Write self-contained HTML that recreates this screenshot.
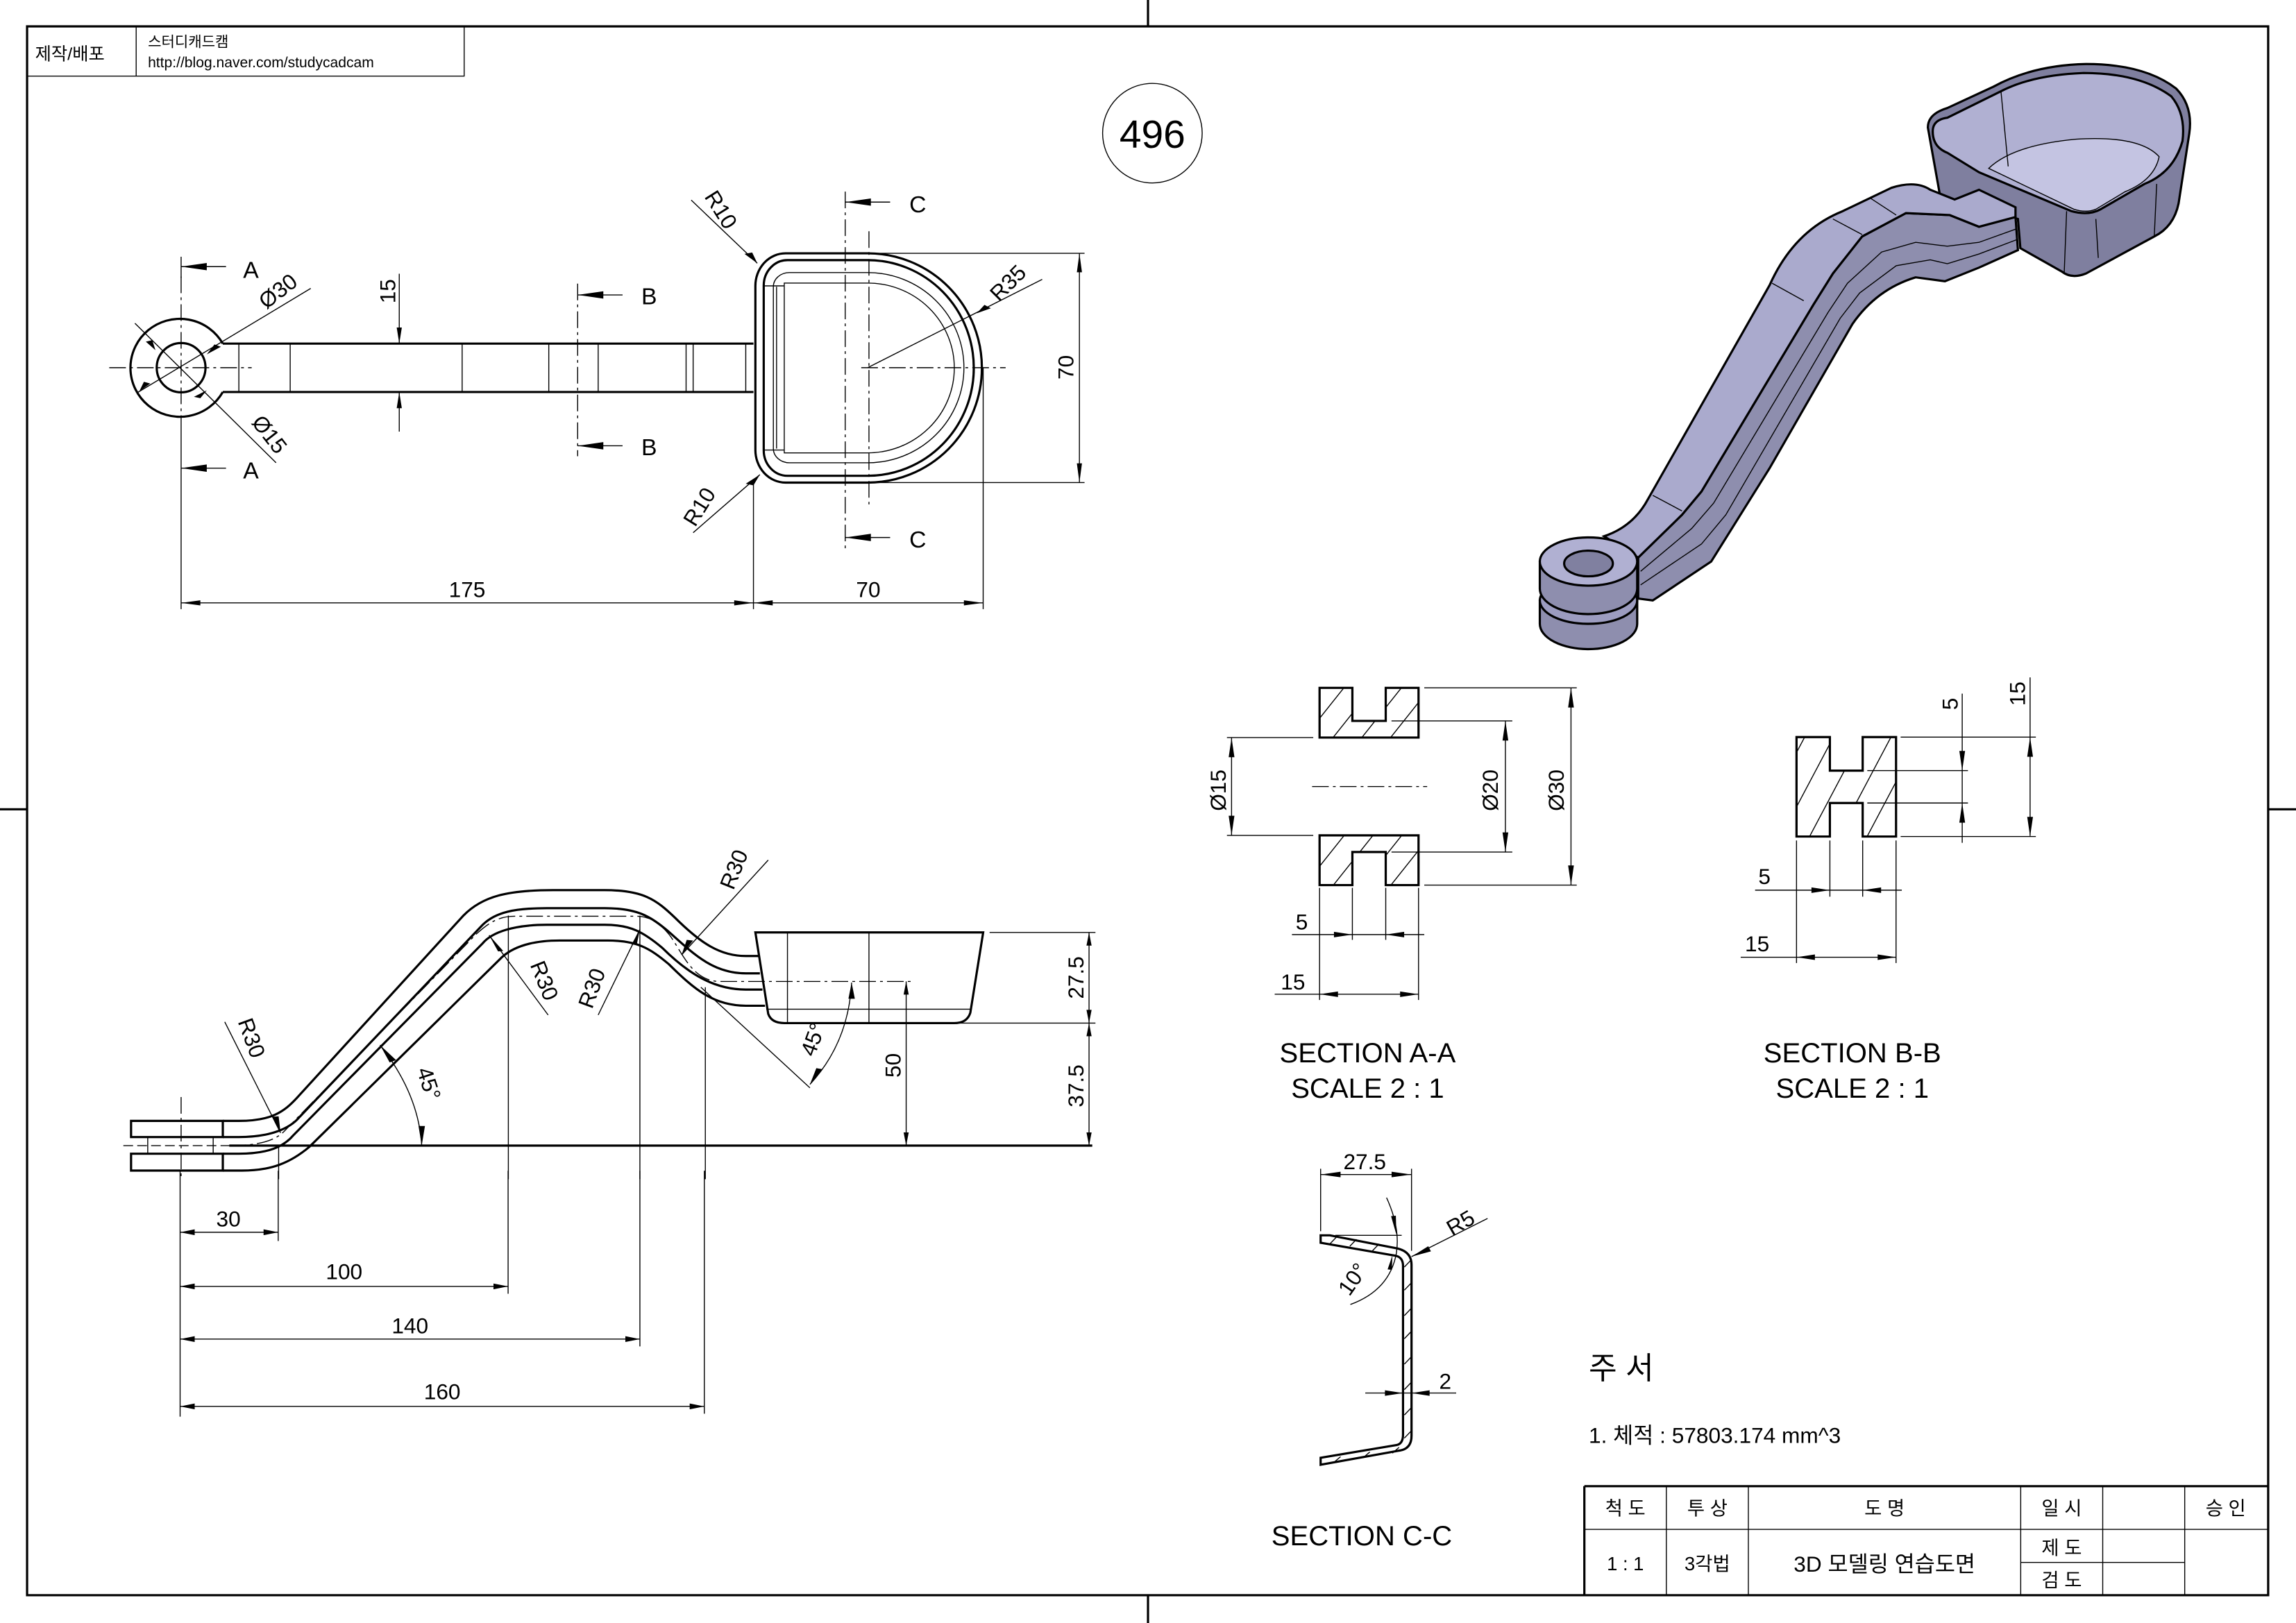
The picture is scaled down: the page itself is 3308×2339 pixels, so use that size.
<!DOCTYPE html>
<html><head><meta charset="utf-8"><style>
html,body{margin:0;padding:0;background:#fff;}
svg{display:block;}
svg *{vector-effect:non-scaling-stroke;}
text{font-family:"Liberation Sans","Noto Sans CJK KR",sans-serif;fill:#000;stroke:none;}
.k{stroke:#000;fill:none;stroke-width:3.2;}
.t{stroke:#000;fill:none;stroke-width:1.4;}
.c{stroke:#000;fill:none;stroke-width:1.4;stroke-dasharray:24 6 4 6;}
.d{stroke:#000;fill:none;stroke-width:1.4;stroke-dasharray:14 6;}
.a{fill:#000;stroke:none;}
.f1{fill:#7f7f9f;}
.f2{fill:#b0b0d2;}
.f3{fill:#c4c4e2;}
.f4{fill:#8e8eae;}
.f5{fill:#9c9cc0;}
.f6{fill:#aaaacd;}
.f7{fill:#8080a0;}
</style></head><body>
<svg width="3308" height="2339" viewBox="0 0 1568 1109" preserveAspectRatio="none" xmlns="http://www.w3.org/2000/svg">
<defs>
<marker id="ar" viewBox="0 0 10 4" refX="10" refY="2" markerWidth="10" markerHeight="4" markerUnits="userSpaceOnUse" orient="auto-start-reverse"><path d="M0 0 L10 2 L0 4 Z" fill="#000"/></marker>
</defs>
<rect width="1568" height="1109" fill="#fff"/>
<rect x="18.5" y="18" width="1530.5" height="1072" class="k"/>
<path class="k" d="M784 0 V18 M784 1090 V1109 M0 553 H18 M1549 553 H1568"/>
<path class="t" d="M18 52 H317 V18 M93 18 V52"/>
<text x="24" y="41" font-size="12">제작/배포</text>
<text x="101" y="32" font-size="10">스터디캐드캠</text>
<text x="101" y="46" font-size="10">http://blog.naver.com/studycadcam</text>
<circle cx="787" cy="91" r="34" class="t"/>
<text x="787" y="101" font-size="27" text-anchor="middle">496</text>

<!-- TOP VIEW -->
<g transform="translate(71.1,123.2) scale(0.4382,0.1934)">
<path class="k" d="M185 577 A77 173 0 1 0 185 748"/>
<ellipse cx="120" cy="662" rx="38" ry="87" class="k"/>
<path class="c" d="M8 662 H230 M120 340 V845"/>
<path class="t" d="M120 270 V345 M120 845 V1515 M120 985 V1050"/>
<path class="k" d="M185 577 H1012 M185 748 H1012"/>
<path class="t" d="M210 577V748 M290 577V748 M558 577V748 M693 577V748 M770 577V748 M907 577V748 M918 577V748 M1000 577V748"/>
<path class="t" d="M460 330 V577 M460 748 V888"/>
<polygon class="a" points="460,577 456,520 464,520"/><polygon class="a" points="460,748 456,805 464,805"/>
<path class="t" d="M120 305 H190 M120 1017 H190"/>
<polygon class="a" points="120,305 160,292 160,318"/><polygon class="a" points="120,1017 160,1004 160,1030"/>
<path class="c" d="M738 365 V975"/>
<path class="t" d="M738 405 H808 M738 938 H808"/>
<polygon class="a" points="738,405 778,392 778,418"/><polygon class="a" points="738,938 778,925 778,951"/>
<path class="c" d="M1155 40 V1300"/>
<path class="t" d="M1155 77 H1225 M1155 1262 H1225"/>
<polygon class="a" points="1155,77 1195,64 1195,90"/><polygon class="a" points="1155,1262 1195,1249 1195,1275"/>
<path class="k" d="M1062 258 L1190 258 A178 405 0 0 1 1190 1068 L1062 1068 A47 115 0 0 1 1015 953 L1015 373 A47 115 0 0 1 1062 258 Z"/>
<path class="k" d="M1065 282 L1190 282 A165 380 0 0 1 1190 1044 L1065 1044 A37 90 0 0 1 1028 954 L1028 372 A37 90 0 0 1 1065 282 Z"/>
<path class="t" d="M1068 326 L1190 326 A150 336 0 0 1 1190 998 L1068 998 A25 50 0 0 1 1043 948 L1043 376 A25 50 0 0 1 1068 326 Z"/>
<path class="t" d="M1060 363 L1190 363 A135 300 0 0 1 1190 963 L1060 963 Z M1028 373 H1060 M1028 953 H1060 M1048 376 V948"/>
<path class="c" d="M1180 662 H1405 M1192 180 V1145"/>
<path class="t" d="M1190 662 L1462 350"/><polygon class="a" points="1360,470 1372,440 1382,452"/>
<path class="t" d="M1190 258 H1528 M1190 1068 H1528 M1520 258 V1068"/>
<polygon class="a" points="1520,258 1516,325 1524,325"/><polygon class="a" points="1520,1068 1516,1000 1524,1000"/>
<path class="t" d="M915 70 L1018 293 M918 1245 L1022 1040"/>
<polygon class="a" points="1018,293 998,260 1010,255"/><polygon class="a" points="1022,1040 1000,1072 1012,1078"/>
<path class="t" d="M322 382 L52 750 M48 505 L268 998"/>
<polygon class="a" points="160,615 172,580 182,588"/><polygon class="a" points="55,745 62,712 72,718"/>
<polygon class="a" points="80,600 65,570 75,565"/><polygon class="a" points="160,742 150,770 140,765"/>
<path class="t" d="M1012 1070 V1515 M1370 662 V1515 M120 1493 H1370"/>
<polygon class="a" points="120,1493 150,1484 150,1502"/><polygon class="a" points="1012,1493 982,1484 982,1502"/>
<polygon class="a" points="1012,1493 1042,1484 1042,1502"/><polygon class="a" points="1370,1493 1340,1484 1340,1502"/>
</g>
<g font-size="15">
<text x="270" y="199" transform="rotate(-90 270 199)" text-anchor="middle">15</text>
<text x="166" y="190" font-size="16">A</text><text x="166" y="327" font-size="16">A</text>
<text x="438" y="208" font-size="16">B</text><text x="438" y="311" font-size="16">B</text>
<text x="621" y="145" font-size="16">C</text><text x="621" y="374" font-size="16">C</text>
<text x="733" y="251" transform="rotate(-90 733 251)" text-anchor="middle">70</text>
<text x="319" y="408" text-anchor="middle">175</text>
<text x="593" y="408" text-anchor="middle">70</text>
<text x="193" y="203" transform="rotate(-38 193 203)" text-anchor="middle">Ø30</text>
<text x="180" y="300" transform="rotate(52 180 300)" text-anchor="middle">Ø15</text>
<text x="488" y="146" transform="rotate(58 488 146)" text-anchor="middle">R10</text>
<text x="482" y="349" transform="rotate(-58 482 349)" text-anchor="middle">R10</text>
<text x="692" y="197" transform="rotate(-45 692 197)" text-anchor="middle">R35</text>
</g>

<!-- FRONT VIEW -->
<g transform="translate(71.1,578.2) scale(0.4382,0.158)">
<rect x="42" y="1188" width="143" height="70" class="k"/>
<rect x="42" y="1330" width="143" height="73" class="k"/>
<path class="t" d="M68 1258 V1330 M170 1258 V1330"/>
<path class="c" d="M120 1085 V1440"/>
<path class="k" d="M185 1188 L210 1188 C260 1188 280 1150 300 1090 L560 300 C590 215 630 190 700 190 L780 190 C840 190 860 230 890 310 C930 420 960 475 1000 475 L1020 475"/>
<path class="k" d="M185 1258 L210 1258 C260 1258 290 1220 305 1170 L590 340 C610 285 640 268 690 268 L780 268 C830 268 850 300 880 370 C920 470 950 550 1000 550 L1022 550"/>
<path class="k" d="M185 1330 L210 1330 C255 1330 280 1300 295 1250 L590 420 C605 370 640 340 690 340 L780 340 C820 340 840 370 870 440 C910 550 950 620 1000 620 L1026 620"/>
<path class="k" d="M185 1403 L215 1403 C260 1403 290 1370 320 1300 L620 480 C640 430 670 408 710 408 L785 408 C830 408 850 440 880 510 C920 620 950 690 1000 690 L1030 690"/>
<path class="c" d="M195 1295 C240 1295 265 1275 280 1235 L580 380 C600 330 615 303 640 303 L830 303 C850 303 865 330 880 380 C900 450 915 585 960 585 L1260 585"/>
<path class="k" d="M1015 373 L1370 373 L1350 720 Q1345 765 1325 765 L1060 765 Q1040 765 1035 725 Z"/>
<path class="t" d="M1032 705 H1352 M1065 373 V765 M1192 373 V765"/>
<path class="k" d="M195 1295 H1540"/>
<path class="d" d="M30 1295 H195"/>
<path class="t" d="M272 1300 V1440 M630 300 V1440 M835 300 V1440 M937 610 V1440"/>
<path class="t" d="M1380 373 H1545 M1330 765 H1545 M1535 373 V1295"/>
<polygon class="a" points="1535,373 1531,430 1539,430"/><polygon class="a" points="1535,765 1531,708 1539,708"/>
<polygon class="a" points="1535,765 1531,822 1539,822"/><polygon class="a" points="1535,1295 1531,1238 1539,1238"/>
<path class="t" d="M1250 585 V1295"/>
<polygon class="a" points="1250,585 1246,642 1254,642"/><polygon class="a" points="1250,1295 1246,1238 1254,1238"/>
<path class="t" d="M430 860 Q490 1070 495 1295"/>
<polygon class="a" points="495,1295 490,1210 500,1210"/><polygon class="a" points="430,860 455,925 445,935"/>
<path class="t" d="M1165 590 Q1160 850 1100 1030 M930 610 L1100 1045"/>
<polygon class="a" points="1165,590 1160,660 1170,660"/><polygon class="a" points="1100,1030 1110,960 1120,965"/>
<path class="t" d="M188 760 L275 1240 M600 385 L692 730 M835 360 L770 730 M1035 60 L900 470"/>
<polygon class="a" points="275,1240 262,1170 272,1168"/><polygon class="a" points="600,385 614,455 622,453"/>
<polygon class="a" points="835,360 822,425 830,427"/><polygon class="a" points="900,470 908,405 918,408"/>
</g>
<g class="t">
<path d="M123 800 V968 M190 800 V848 M347 800 V884 M437 800 V920 M481 800 V966"/>
<path d="M123 842 H190" marker-start="url(#ar)" marker-end="url(#ar)"/>
<path d="M123 879 H347" marker-start="url(#ar)" marker-end="url(#ar)"/>
<path d="M123 915 H437" marker-start="url(#ar)" marker-end="url(#ar)"/>
<path d="M123 961 H481" marker-start="url(#ar)" marker-end="url(#ar)"/>
</g>
<g font-size="15">
<text x="156" y="838" text-anchor="middle">30</text>
<text x="235" y="874" text-anchor="middle">100</text>
<text x="280" y="911" text-anchor="middle">140</text>
<text x="302" y="956" text-anchor="middle">160</text>
<text x="740" y="668" transform="rotate(-90 740 668)" text-anchor="middle">27.5</text>
<text x="740" y="742" transform="rotate(-90 740 742)" text-anchor="middle">37.5</text>
<text x="615" y="728" transform="rotate(-90 615 728)" text-anchor="middle">50</text>
<text x="506" y="596" transform="rotate(-68 506 596)" text-anchor="middle">R30</text>
<text x="367" y="672" transform="rotate(68 367 672)" text-anchor="middle">R30</text>
<text x="409" y="677" transform="rotate(-70 409 677)" text-anchor="middle">R30</text>
<text x="167" y="711" transform="rotate(70 167 711)" text-anchor="middle">R30</text>
<text x="288" y="742" transform="rotate(72 288 742)" text-anchor="middle">45°</text>
<text x="560" y="712" transform="rotate(-70 560 712)" text-anchor="middle">45°</text>
</g>

<!-- SECTIONS -->
<clipPath id="cpA1" clipPathUnits="userSpaceOnUse"><path d="M243 95 L300 95 L300 238 L358 238 L358 95 L415 95 L415 310 L243 310 Z M243 733 L415 733 L415 948 L358 948 L358 805 L300 805 L300 948 L243 948 Z M1072 308 L1130 308 L1130 453 L1187 453 L1187 308 L1245 308 L1245 738 L1187 738 L1187 593 L1130 593 L1130 738 L1072 738 Z"/></clipPath>
<g transform="translate(805.7,455) scale(0.3929,0.158)">
<g clip-path="url(#cpA1)" class="t">
<path d="M160 330 L240 80 M210 330 L290 80 M260 330 L340 80 M310 330 L390 80 M360 330 L440 80 M410 330 L490 80
M160 970 L240 720 M210 970 L290 720 M260 970 L340 720 M310 970 L390 720 M360 970 L440 720 M410 970 L490 720
M990 760 L1090 290 M1040 760 L1140 290 M1090 760 L1190 290 M1140 760 L1240 290 M1190 760 L1290 290 M1240 760 L1340 290"/>
</g>
<path class="k" d="M243 95 L300 95 L300 238 L358 238 L358 95 L415 95 L415 310 L243 310 Z M243 733 L415 733 L415 948 L358 948 L358 805 L300 805 L300 948 L243 948 Z M1072 308 L1130 308 L1130 453 L1187 453 L1187 308 L1245 308 L1245 738 L1187 738 L1187 593 L1130 593 L1130 738 L1072 738 Z"/>
<path class="t" d="M425 95 H690 M368 238 H578 M82 310 H232 M82 733 H232 M368 805 H578 M425 948 H690 M90 310 V733 M566 238 V805 M680 95 V948"/>
<polygon class="a" points="90,310 85,395 95,395"/><polygon class="a" points="90,733 85,648 95,648"/>
<polygon class="a" points="566,238 561,323 571,323"/><polygon class="a" points="566,805 561,720 571,720"/>
<polygon class="a" points="680,95 675,180 685,180"/><polygon class="a" points="680,948 675,863 685,863"/>
<path class="c" d="M230 522 H430"/>
<path class="t" d="M243 960 V1445 M415 960 V1445 M300 960 V1185 M358 960 V1185 M195 1162 H425 M165 1420 H415"/>
<polygon class="a" points="300,1162 268,1150 268,1174"/><polygon class="a" points="358,1162 390,1150 390,1174"/>
<polygon class="a" points="243,1420 275,1408 275,1432"/><polygon class="a" points="415,1420 383,1408 383,1432"/>
<path class="t" d="M1253 308 H1488 M1195 453 H1370 M1195 593 H1370 M1253 738 H1488 M1360 120 V765 M1478 50 V735"/>
<polygon class="a" points="1360,453 1355,368 1365,368"/><polygon class="a" points="1360,593 1355,678 1365,678"/>
<polygon class="a" points="1478,308 1473,393 1483,393"/><polygon class="a" points="1478,738 1473,653 1483,653"/>
<path class="t" d="M1072 755 V1285 M1245 755 V1285 M1130 755 V998 M1187 755 V998 M1000 970 H1255 M975 1260 H1245"/>
<polygon class="a" points="1130,970 1098,958 1098,982"/><polygon class="a" points="1187,970 1219,958 1219,982"/>
<polygon class="a" points="1072,1260 1104,1248 1104,1272"/><polygon class="a" points="1245,1260 1213,1248 1213,1272"/>
</g>
<g font-size="15">
<text x="837" y="540" transform="rotate(-90 837 540)" text-anchor="middle">Ø15</text>
<text x="1023" y="540" transform="rotate(-90 1023 540)" text-anchor="middle">Ø20</text>
<text x="1068" y="540" transform="rotate(-90 1068 540)" text-anchor="middle">Ø30</text>
<text x="889" y="635" text-anchor="middle">5</text>
<text x="883" y="676" text-anchor="middle">15</text>
<text x="1337" y="481" transform="rotate(-90 1337 481)" text-anchor="middle">5</text>
<text x="1383" y="474" transform="rotate(-90 1383 474)" text-anchor="middle">15</text>
<text x="1205" y="604" text-anchor="middle">5</text>
<text x="1200" y="650" text-anchor="middle">15</text>
</g>
<g font-size="19" text-anchor="middle">
<text x="934" y="726">SECTION A-A</text>
<text x="934" y="750">SCALE 2 : 1</text>
<text x="1265" y="726">SECTION B-B</text>
<text x="1265" y="750">SCALE 2 : 1</text>
<text x="930" y="1056">SECTION C-C</text>
</g>

<!-- SECTION C-C -->
<g transform="translate(805.7,767.8) scale(0.1815,0.158)">
<path class="k" d="M530 483 L565 483 L820 540 Q872 555 872 610 L872 1350 Q872 1410 820 1415 L530 1475 L530 1445 L815 1390 Q840 1385 840 1345 L840 615 Q840 580 815 572 L530 515 Z"/>
<path class="t" d="M565 520 L590 490 M640 530 L665 500 M725 550 L750 520 M845 620 L870 590 M845 720 L870 690 M845 830 L870 800 M845 930 L870 900 M845 1040 L870 1010 M845 1150 L870 1120 M845 1260 L870 1230 M845 1360 L870 1330 M580 1465 L605 1440 M690 1445 L715 1420 M800 1425 L825 1400"/>
<path class="t" d="M530 195 V465 M872 195 V550 M530 220 H872 M585 483 H835"/>
<polygon class="a" points="530,220 605,208 605,232"/><polygon class="a" points="872,220 797,208 797,232"/>
<path class="t" d="M778 320 Q830 450 815 560 Q790 720 642 782"/>
<polygon class="a" points="815,480 795,400 813,398"/><polygon class="a" points="800,570 782,630 798,632"/>
<path class="t" d="M872 575 L1158 410"/><polygon class="a" points="872,575 935,530 945,552"/>
<path class="t" d="M698 1165 H1040"/>
<polygon class="a" points="840,1165 772,1153 772,1177"/><polygon class="a" points="872,1165 940,1153 940,1177"/>
</g>
<g font-size="15">
<text x="932" y="799" text-anchor="middle">27.5</text>
<text x="1000" y="840" transform="rotate(-30 1000 840)" text-anchor="middle">R5</text>
<text x="928" y="877" transform="rotate(-55 928 877)" text-anchor="middle">10°</text>
<text x="987" y="949" text-anchor="middle">2</text>
</g>

<text x="1085" y="942" font-size="21">주  서</text>
<text x="1085" y="986" font-size="15">1. 체적 : 57803.174 mm^3</text>

<path class="k" d="M1082 1015.5 H1549 M1082 1015.5 V1090"/>
<path class="t" d="M1082 1045 H1549 M1380 1067.6 H1492 M1138 1015 V1090 M1194 1015 V1090 M1380 1015 V1090 M1436 1015 V1090 M1492 1015 V1090"/>
<g font-size="13" text-anchor="middle">
<text x="1110" y="1035">척 도</text>
<text x="1166" y="1035">투 상</text>
<text x="1287" y="1035">도      명</text>
<text x="1408" y="1035">일 시</text>
<text x="1520" y="1035">승 인</text>
<text x="1110" y="1073">1 : 1</text>
<text x="1166" y="1073">3각법</text>
<text x="1287" y="1074" font-size="15">3D 모델링 연습도면</text>
<text x="1408" y="1062">제 도</text>
<text x="1408" y="1084">검 도</text>
</g>

<!-- ISO VIEW -->
<g transform="translate(1019,37.9) scale(0.3325,0.266)">
<path class="k f1" d="M895 185 Q895 150 935 135 L1030 80 Q1110 25 1220 22 Q1340 22 1405 85 Q1440 130 1432 200 L1410 380 Q1400 440 1360 465 L1220 560 Q1190 575 1170 555 L1085 495 L1080 420 L920 360 Z"/>
<path class="k f2" d="M905 195 Q905 165 935 160 L1045 92 Q1110 50 1215 45 Q1330 45 1395 105 Q1425 150 1418 220 Q1400 300 1340 330 L1250 395 Q1225 412 1190 400 L1000 300 L935 250 Q905 235 905 195 Z"/>
<path class="t f3" d="M1020 290 Q1070 230 1200 215 Q1330 205 1370 260 Q1360 320 1300 350 L1240 395 Q1220 405 1195 395 Z"/>
<path class="t" d="M1045 90 L1060 285 M1175 560 L1180 400 M1360 465 L1365 330 M1240 420 L1245 520"/>
<!-- arm side face -->
<path class="k f4" d="M300 1290 L390 1180 L430 1120 L660 640 L700 560 L760 465 L850 405 L940 410 L1000 440 L1075 415 L1080 500 L1000 545 L930 580 L870 570 Q790 600 740 690 L570 1060 L450 1300 L330 1400 L300 1395 Z"/>
<path class="t" d="M305 1325 L410 1215 L455 1150 L690 660 L730 585 L800 505 L870 480 L935 490 L1000 480 L1078 445 M305 1360 L430 1255 L480 1180 L715 675 L755 610 L830 540 L900 525 L935 535 L1000 510 L1080 472"/>
<!-- arm top face -->
<path class="k f6" d="M230 1235 Q290 1210 320 1140 L570 590 Q620 450 720 400 L820 340 Q870 320 900 345 L950 370 L1000 345 L1075 390 L1075 415 L1000 440 L940 410 L850 405 L760 465 L700 560 L660 640 L430 1120 L390 1180 L300 1290 Z"/>
<path class="t" d="M330 1130 L390 1170 M575 585 L640 630 M700 420 L760 460 M775 365 L830 410"/>
<path class="k f4" d="M98 1400 L98 1460 A100 65 0 0 0 298 1460 L298 1400 Z"/>
<ellipse cx="198" cy="1400" rx="100" ry="60" class="k f5"/>
<path class="k f4" d="M98 1300 L98 1370 A100 65 0 0 0 298 1370 L298 1300 Z"/>
<ellipse cx="198" cy="1300" rx="100" ry="62" class="k f2"/>
<ellipse cx="198" cy="1305" rx="50" ry="33" class="k f7"/>
</g>
</svg>
</body></html>
